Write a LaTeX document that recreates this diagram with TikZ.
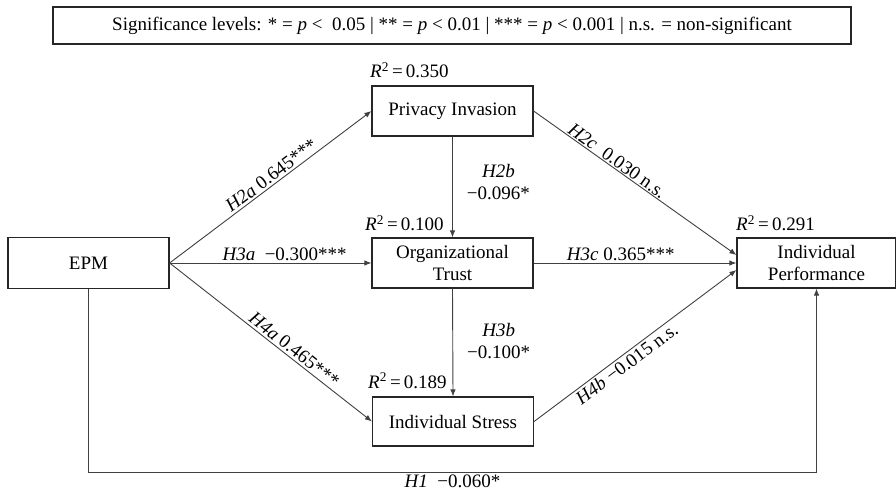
\documentclass[tikz,border=0pt]{standalone}
\usepackage{fontspec}
\setmainfont{Liberation Serif}
\usetikzlibrary{arrows.meta}
\begin{document}
\begin{tikzpicture}[x=1pt,y=1pt,
  box/.style={draw=black!85, line width=1.2pt, minimum width=161pt, minimum height=50pt,
    inner sep=0pt, align=center, font=\fontsize{19}{22}\selectfont},
  link/.style={draw=black!75, line width=0.9pt, -{Latex[length=7pt,width=5.5pt]}},
  lab/.style={font=\fontsize{19}{22}\selectfont, inner sep=2pt},
  rsq/.style={font=\fontsize{19}{22}\selectfont, inner sep=0pt, anchor=base west}]

\useasboundingbox (0,0) rectangle (896,493);

% legend
\node[draw=black!85, line width=1.2pt, minimum width=798pt, minimum height=37pt,
  inner sep=0pt, font=\fontsize{19}{21}\selectfont] (legend) at (452,467.5)
  {Significance levels: * = \textit{p} <\ \ 0.05 | ** = \textit{p} < 0.01 | *** = \textit{p} < 0.001 | n.s. = non-significant};

% constructs
\node[box, minimum height=51pt] (epm) at (88.5,230) {EPM};
\node[box] (pi) at (452.5,382) {Privacy Invasion};
\node[box] (ot) at (452.5,230) {Organizational\\Trust};
\node[box, minimum height=49pt] (is) at (453,71.5) {Individual Stress};
\node[box, minimum width=159pt] (ip) at (816.5,230) {Individual\\Performance};

% explained variance
\node[rsq] (r1) at (370,415) {\textit{R}\textsuperscript{2}\,=\,0.350};
\node[rsq] (r2) at (365,262) {\textit{R}\textsuperscript{2}\,=\,0.100};
\node[rsq] (r3) at (368,105) {\textit{R}\textsuperscript{2}\,=\,0.189};
\node[rsq] (r4) at (736,262) {\textit{R}\textsuperscript{2}\,=\,0.291};

% structural paths
\draw[link] (epm.east) -- (pi.west)
  node[lab, pos=0.53, sloped, above] {\textit{H2a} 0.645***};
\draw[link] (epm.east) -- (ot.west)
  node[lab, pos=0.57, above] {\textit{H3a}\ \ −0.300***};
\draw[link] (epm.east) -- (is.west)
  node[lab, pos=0.59, sloped, above] {\textit{H4a} 0.465***};

\draw[link] (pi.south) -- (ot.north)
  node[lab, pos=0.45, right, xshift=12pt, align=center] {\textit{H2b}\\−0.096*};
\draw[link] (ot.south) -- (is.north)
  node[lab, pos=0.49, right, xshift=12pt, align=center] {\textit{H3b}\\−0.100*};

\draw[link] (pi.east) -- ([yshift=8pt]ip.west)
  node[lab, pos=0.39, sloped, above, inner sep=1pt] {\textit{H2c}\ \ 0.030 n.s.};
\draw[link] (ot.east) -- (ip.west)
  node[lab, pos=0.43, above] {\textit{H3c} 0.365***};
\draw[link] (is.east) -- ([yshift=-7pt]ip.west)
  node[lab, pos=0.43, sloped, below] {\textit{H4b} −0.015 n.s.};

% direct effect
\coordinate (h1) at (0,21);
\draw[link] (epm.south) |- (ip.south |- h1)
  node[lab, pos=0.75, below] {\textit{H1}\ \ −0.060*} -- (ip.south);

\end{tikzpicture}
\end{document}
